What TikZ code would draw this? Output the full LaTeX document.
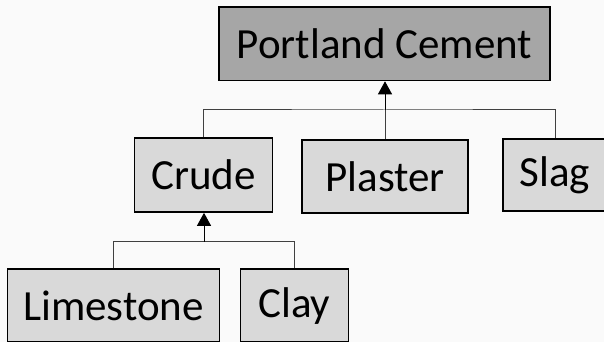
\documentclass[tikz,border=0pt]{standalone}
\usepackage{fontspec}
\setmainfont{Carlito}
\usetikzlibrary{arrows.meta}
\definecolor{bgc}{HTML}{FAFAFA}
\definecolor{topfill}{HTML}{A6A6A6}
\definecolor{boxfill}{HTML}{D9D9D9}
\definecolor{linec}{HTML}{404040}
\begin{document}
\begin{tikzpicture}[x=1pt,y=1pt,
  box/.style={draw=black,line width=1.6pt,fill=boxfill,inner sep=0pt,
    font=\fontsize{43}{50}\selectfont},
  conn/.style={draw=linec,line width=1pt},
  tip/.style={draw=black,-{Triangle[length=13pt,width=14pt,fill=black]}}]
\useasboundingbox (0,0) rectangle (604,342);
\fill[bgc] (0,0) rectangle (604,342);
\node[box,fill=topfill,minimum width=331pt,minimum height=73.5pt] (port) at (384.5,298.25) {Portland Cement};
\node[box,minimum width=138pt,minimum height=74.3pt] (crude) at (203.5,167.1) {Crude};
\node[box,minimum width=166pt,minimum height=73pt] (plaster) at (385,165.5) {Plaster};
\node[box,minimum width=104pt,minimum height=72pt] (slag) at (555,167) {Slag};
\node[box,minimum width=212pt,minimum height=73pt] (lime) at (113.6,36.2) {Limestone};
\node[box,minimum width=108pt,minimum height=73pt] (clay) at (294.4,36.2) {Clay};
\coordinate (j1) at (385,232);
\coordinate (j2) at (204,100.3);
\draw[conn] (crude.north) |- (j1) -| (slag.north);
\draw[conn] (plaster.north) -- (j1);
\draw[conn,tip] (j1) -- (j1 |- port.south);
\draw[conn] (lime.north) |- (j2) -| (clay.north);
\draw[conn,tip] (j2) -- (j2 |- crude.south);
\end{tikzpicture}
\end{document}
